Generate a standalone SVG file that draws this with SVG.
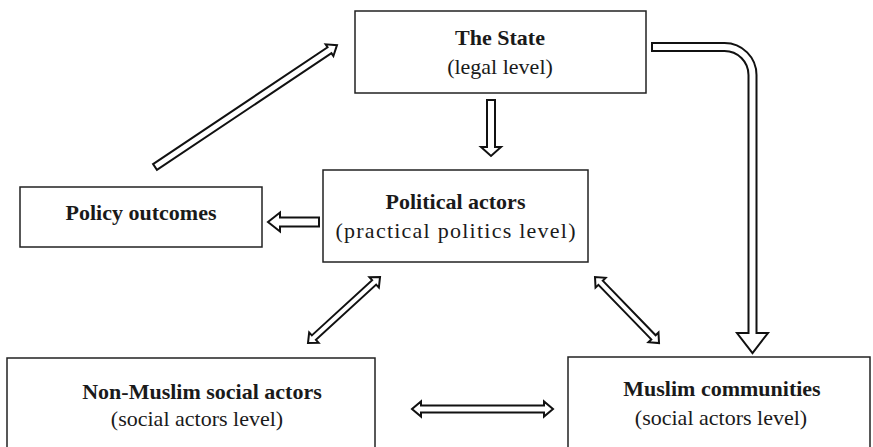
<svg xmlns="http://www.w3.org/2000/svg" width="873" height="447" viewBox="0 0 873 447">
<style>
.box{fill:#fff;stroke:#222;stroke-width:1.5}
.arr{fill:#fff;stroke:#111;stroke-width:2;stroke-linejoin:miter}
.t{font-family:"Liberation Serif","Times New Roman",serif;font-size:22px;fill:#1a1a1a;text-anchor:middle}
.b{font-weight:bold}
</style>
<rect width="873" height="447" fill="#fff"/>
<g id="connectors">
<path class="arr" transform="translate(155,167) rotate(-33.8)" d="M0,-3.5 L210,-3.5 L210,-7 L219,0 L210,7 L210,3.5 L0,3.5 Z"/>
<path class="arr" transform="translate(491,100) rotate(90)" d="M0,-4 L47,-4 L47,-10 L56,0 L47,10 L47,4 L0,4 Z"/>
<path class="arr" transform="translate(319,222) rotate(180)" d="M0,-4.5 L39,-4.5 L39,-9.5 L51,0 L39,9.5 L39,4.5 L0,4.5 Z"/>
<path class="arr" transform="translate(308,343) rotate(-42.5)" d="M8,-3 L89.7,-3 L89.7,-7 L97.7,0 L89.7,7 L89.7,3 L8,3 L8,7 L0,0 L8,-7 Z"/>
<path class="arr" transform="translate(595,277) rotate(45.9)" d="M8,-3 L84,-3 L84,-7 L92,0 L84,7 L84,3 L8,3 L8,7 L0,0 L8,-7 Z"/>
<path class="arr" transform="translate(412,409)" d="M9,-3.5 L132,-3.5 L132,-7.5 L141,0 L132,7.5 L132,3.5 L9,3.5 L9,7.5 L0,0 L9,-7.5 Z"/>
<path class="arr" d="M652,43 L724.5,43 A32 32 0 0 1 756.5,75 L756.5,333 L768,333 L752.5,353 L737,333 L748.5,333 L748.5,75 A24 24 0 0 0 724.5,51 L652,51 Z"/>
</g>
<g id="state">
<rect class="box" x="355" y="11" width="291" height="82"/>
<text class="t b" x="500" y="45">The State</text>
<text class="t" x="500" y="74">(legal level)</text>
</g>
<g id="policy">
<rect class="box" x="20" y="187" width="242" height="60"/>
<text class="t b" x="141" y="220">Policy outcomes</text>
</g>
<g id="political">
<rect class="box" x="323" y="170" width="265" height="92"/>
<text class="t b" x="455.5" y="209">Political actors</text>
<text class="t" x="455.5" y="238" textLength="240" lengthAdjust="spacing">(practical politics level)</text>
</g>
<g id="nonmuslim">
<rect class="box" x="7" y="358" width="368" height="100"/>
<text class="t b" x="202" y="399">Non-Muslim social actors</text>
<text class="t" x="197" y="426">(social actors level)</text>
</g>
<g id="muslim">
<rect class="box" x="568" y="357" width="302" height="100"/>
<text class="t b" x="722" y="396">Muslim communities</text>
<text class="t" x="721" y="425">(social actors level)</text>
</g>
</svg>
